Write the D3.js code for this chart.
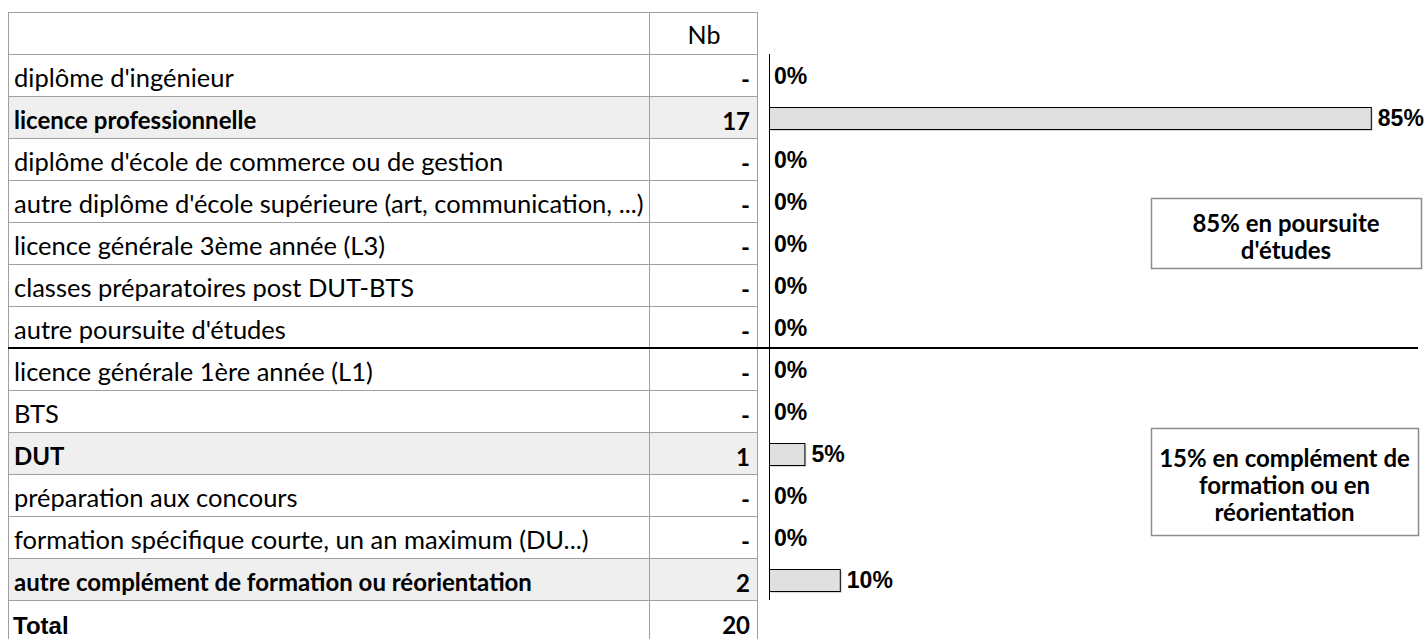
<!DOCTYPE html>
<html>
<head>
<meta charset="utf-8">
<script src="https://cdn.jsdelivr.net/npm/d3@7.9.0/dist/d3.min.js"></script>
<style>
  html, body { margin: 0; padding: 0; background: #fff; }
  svg { display: block; }
</style>
</head>
<body>
<svg id="chart" width="1426" height="639"></svg>
<script>
// data
const categories = [
  "diplôme d'ingénieur",
  "licence professionnelle",
  "diplôme d'école de commerce ou de gestion",
  "autre diplôme d'école supérieure (art, communication, ...)",
  "licence générale 3ème année (L3)",
  "classes préparatoires post DUT-BTS",
  "autre poursuite d'études",
  "licence générale 1ère année (L1)",
  "BTS",
  "DUT",
  "préparation aux concours",
  "formation spécifique courte, un an maximum (DU...)",
  "autre complément de formation ou réorientation"
];
const counts = [0, 17, 0, 0, 0, 0, 0, 0, 0, 1, 0, 0, 2];
const total = 20;
const splitAfter = "autre poursuite d'études";
const boxTexts = [
  ["85% en poursuite", "d'études"],
  ["15% en complément de", "formation ou en", "réorientation"]
];

const svg = d3.select('#chart');
const labelFont = 'Lato, "Open Sans", sans-serif';
const boldFont = '"Liberation Sans", Arial, sans-serif';

const tableLeft = 8, colSplit = 649, tableRight = 757;
const headTop = 12, rowsTop = 54, rowH = 42;

let y = d3.scaleBand()
  .domain(categories)
  .range([rowsTop, rowsTop + rowH * categories.length])
  .paddingInner(0).paddingOuter(0);

let x = d3.scaleLinear().domain([0, 1]).range([769, 769 + 708]);

const rows = categories.map((c, i) => ({ label: c, value: counts[i], pct: counts[i] / total }));
const totalTop = y.range()[1];

// grey background for non empty rows
svg.selectAll('rect.bg')
  .data(rows.filter(d => d.value > 0))
  .join('rect')
  .attr('x', tableLeft).attr('y', d => y(d.label))
  .attr('width', tableRight - tableLeft).attr('height', y.bandwidth())
  .attr('fill', '#efefef');

// horizontal grid lines of the table
let hLines = [headTop, rowsTop].concat(rows.map(d => y(d.label) + y.bandwidth()));
svg.selectAll('line.h')
  .data(hLines)
  .join('line')
  .attr('x1', tableLeft).attr('x2', tableRight)
  .attr('y1', d => d + 0.5).attr('y2', d => d + 0.5)
  .attr('stroke', '#a0a0a0');

// vertical grid lines
svg.selectAll('line.v')
  .data([tableLeft, colSplit, tableRight])
  .join('line')
  .attr('x1', d => d + 0.5).attr('x2', d => d + 0.5)
  .attr('y1', headTop).attr('y2', 639)
  .attr('stroke', '#a0a0a0');

// header
svg.append('text')
  .attr('x', 704).attr('y', headTop + 32)
  .attr('text-anchor', 'middle')
  .style('font', `25px ${labelFont}`)
  .text('Nb');

// row labels
svg.selectAll('text.label')
  .data(rows)
  .join('text')
  .attr('x', tableLeft + 6)
  .attr('y', d => y(d.label) + y.bandwidth() - 9)
  .style('font-family', labelFont)
  .style('font-size', d => d.value > 0 ? '24px' : '25.5px')
  .style('font-weight', d => d.value > 0 ? 700 : 400)
  .text(d => d.label);

// counts
svg.selectAll('text.count')
  .data(rows)
  .join('text')
  .attr('x', tableRight - 7)
  .attr('y', d => y(d.label) + y.bandwidth() - 8)
  .attr('text-anchor', 'end')
  .style('font', `bold 24px ${labelFont}`)
  .text(d => d.value > 0 ? d.value : '-');

// total row
svg.append('text')
  .attr('x', tableLeft + 5).attr('y', totalTop + 34)
  .style('font', `bold 24px ${boldFont}`)
  .text('Total');
svg.append('text')
  .attr('x', tableRight - 7).attr('y', totalTop + 34)
  .attr('text-anchor', 'end')
  .style('font', `bold 24px ${labelFont}`)
  .text(total);

// separator between the two groups
let sepY = y(splitAfter) + y.bandwidth();
svg.append('line')
  .attr('x1', tableLeft).attr('x2', 1418)
  .attr('y1', sepY).attr('y2', sepY)
  .attr('stroke', '#000').attr('stroke-width', 2);

// bars
const barH = 22;
const barY = d => y(d.label) + (y.bandwidth() - barH) / 2 + 1;
let bars = rows.filter(d => d.value > 0);

svg.selectAll('rect.shadow')
  .data(bars)
  .join('rect')
  .attr('x', x(0) + 2).attr('y', d => barY(d) + 2)
  .attr('width', d => x(d.pct) - x(0)).attr('height', barH)
  .attr('fill', '#d8d8d8');

svg.selectAll('rect.bar')
  .data(bars)
  .join('rect')
  .attr('x', x(0) + 0.5).attr('y', d => barY(d) + 0.5)
  .attr('width', d => x(d.pct) - x(0)).attr('height', barH)
  .attr('fill', '#e0e0e0')
  .attr('stroke', '#000');

// axis line
svg.append('line')
  .attr('x1', x(0) + 0.5).attr('x2', x(0) + 0.5)
  .attr('y1', rowsTop).attr('y2', totalTop)
  .attr('stroke', '#000');

// percentage labels
svg.selectAll('text.pct')
  .data(rows)
  .join('text')
  .attr('x', d => d.value > 0 ? x(d.pct) + 7 : x(0) + 5)
  .attr('y', d => y(d.label) + y.bandwidth() / 2 + 9)
  .style('font', `bold 23px ${boldFont}`)
  .text(d => d3.format('.0%')(d.pct));

// summary boxes
const boxes = [
  { x: 1151, y: 198, w: 270, h: 70, lines: boxTexts[0] },
  { x: 1151, y: 428, w: 267, h: 107, lines: boxTexts[1] }
];
boxes.forEach(b => {
  svg.append('rect')
    .attr('x', b.x + 0.5).attr('y', b.y + 0.5)
    .attr('width', b.w).attr('height', b.h)
    .attr('fill', '#fff').attr('stroke', '#8c8c8c').attr('stroke-width', 1.5);
  let lh = 27;
  let start = b.y + b.h / 2 - (b.lines.length - 1) * lh / 2 + 12;
  b.lines.forEach((t, i) => {
    svg.append('text')
      .attr('x', b.x + b.w / 2).attr('y', start + i * lh)
      .attr('text-anchor', 'middle')
      .style('font', `bold 24px ${labelFont}`)
      .text(t);
  });
});
</script>
</body>
</html>
